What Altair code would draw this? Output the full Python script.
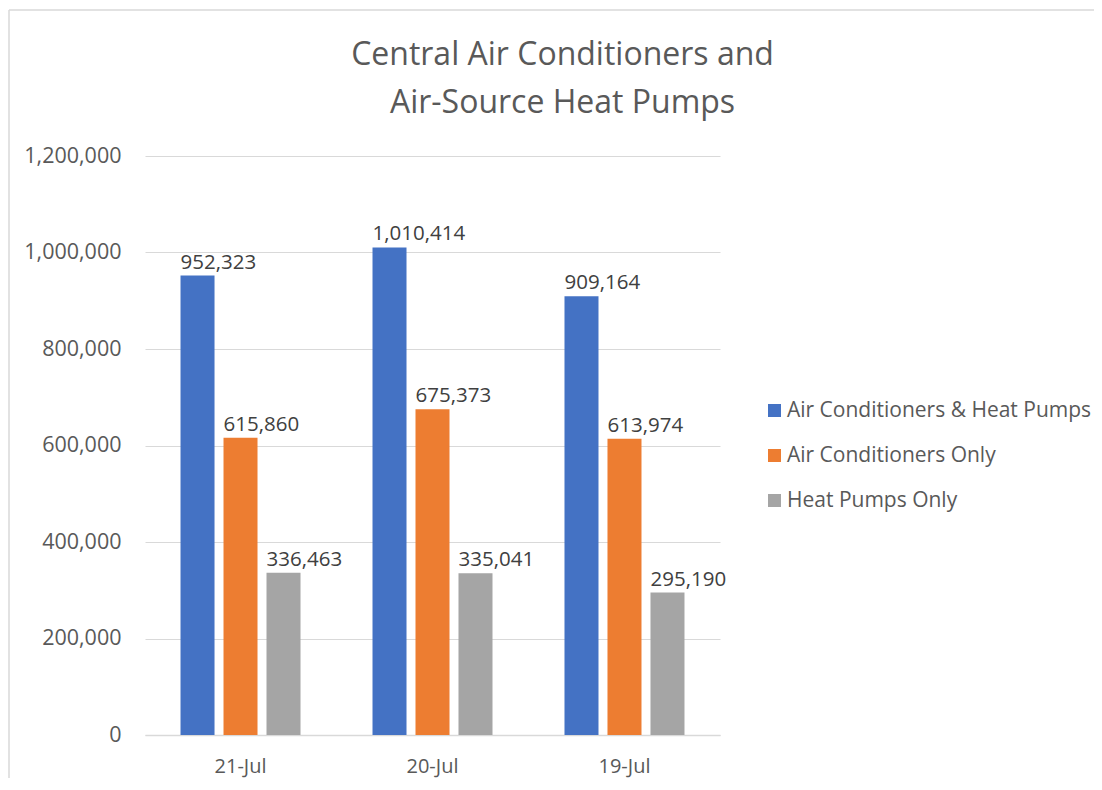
import altair as alt
import pandas as pd

categories = ["21-Jul", "20-Jul", "19-Jul"]
series = ["Air Conditioners & Heat Pumps", "Air Conditioners Only", "Heat Pumps Only"]
ac_hp = [952323, 1010414, 909164]
ac_only = [615860, 675373, 613974]
hp_only = [336463, 335041, 295190]
colors = ["#4472C4", "#ED7D31", "#A5A5A5"]
y_ticks = [0, 200000, 400000, 600000, 800000, 1000000, 1200000]

rows = []
for i, c in enumerate(categories):
    for s, vals in zip(series, [ac_hp, ac_only, hp_only]):
        rows.append({"date": c, "series": s, "value": vals[i], "label": f"{vals[i]:,}"})
df = pd.DataFrame(rows)

FONT = "Open Sans"

x = alt.X("date:N", sort=categories,
          scale=alt.Scale(paddingInner=0.375, paddingOuter=0.185),
          axis=alt.Axis(title=None, labelAngle=0, labelFontSize=20, labelColor="#595959",
                        labelPadding=21, ticks=False, domainColor="#d9d9d9", domainWidth=1.5,
                        grid=False, labelFont=FONT))
xo = alt.XOffset("series:N", sort=series, scale=alt.Scale(paddingInner=0.209, paddingOuter=0))
y = alt.Y("value:Q", scale=alt.Scale(domain=[0, 1200000], nice=False),
          axis=alt.Axis(title=None, values=y_ticks, format=",d", labelFontSize=21.5,
                        labelColor="#595959", labelPadding=24, ticks=False, domain=False,
                        gridColor="#d9d9d9", gridWidth=1, labelFont=FONT))

bars = alt.Chart(df).mark_bar().encode(
    x=x, xOffset=xo, y=y,
    color=alt.Color("series:N", sort=series,
                    scale=alt.Scale(domain=series, range=colors),
                    legend=alt.Legend(title=None, orient="none", legendX=619, legendY=244,
                                      symbolType="square", symbolSize=169, symbolStrokeWidth=0,
                                      labelFontSize=21, labelColor="#595959", labelFont=FONT,
                                      labelLimit=400, rowPadding=23, labelOffset=2, padding=0)),
)

labels = alt.Chart(df).mark_text(dy=-3, dx=-17, align="left", baseline="bottom", fontSize=20.5,
                                 color="#404040", font=FONT).encode(
    x=x, xOffset=xo, y=y, text="label:N")

one = pd.DataFrame({"a": [0]})
top_border = alt.Chart(one).mark_rule(color="#d9d9d9", strokeWidth=1.5, clip=False).encode(
    x=alt.value(-136), x2=alt.value(960), y=alt.value(-146))
left_border = alt.Chart(one).mark_rule(color="#d9d9d9", strokeWidth=1.5, clip=False).encode(
    x=alt.value(-136), y=alt.value(-146), y2=alt.value(640))

chart = alt.layer(top_border, left_border, bars, labels).properties(
    width=575, height=579,
    title=alt.Title(["Central Air Conditioners and", "Air-Source Heat Pumps"],
                    anchor="middle", frame="group", dx=130, fontSize=32, font=FONT,
                    fontWeight="normal", color="#595959", lineHeight=48, offset=-111),
    autosize=alt.AutoSizeParams(type="none"),
    padding={"left": 137, "top": 148, "right": 374, "bottom": 43},
).configure_view(stroke=None)

chart.save("out.html", embed_options={"renderer": "svg", "actions": False})
